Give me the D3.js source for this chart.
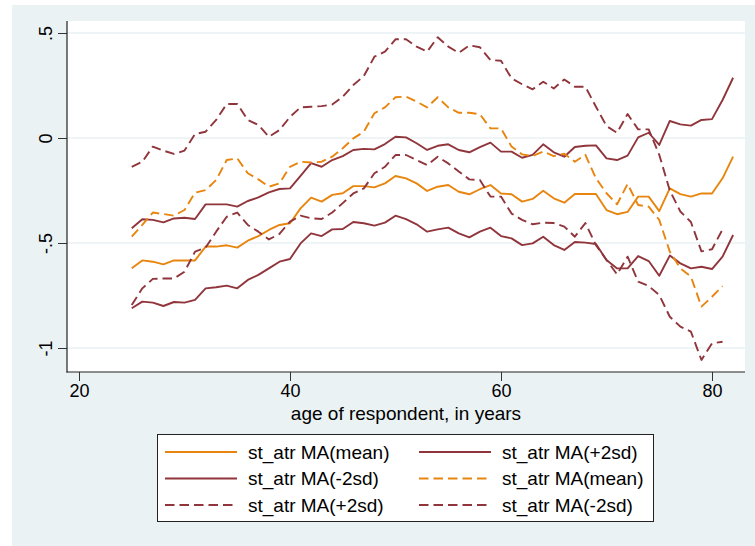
<!DOCTYPE html>
<html>
<head>
<meta charset="utf-8">
<script src="https://cdn.jsdelivr.net/npm/d3@7"></script>
<style>
  body { margin: 0; background: #fff; }
  svg text { font-family: "Liberation Sans", Arial, sans-serif; fill: #000; }
</style>
</head>
<body>
<div class="canvas"></div>
<script>
// ages on the x axis (solid series run to 82, dashed to 81)
const agesSolid = d3.range(25, 83)
const agesDashed = d3.range(25, 82)

const meanSolid = [-0.62, -0.583, -0.589, -0.602, -0.583, -0.583, -0.583, -0.517, -0.517, -0.511,
    -0.522, -0.489, -0.467, -0.438, -0.414, -0.406, -0.335, -0.284, -0.303, -0.271,
    -0.263, -0.229, -0.229, -0.235, -0.216, -0.181, -0.192, -0.216, -0.252, -0.232,
    -0.224, -0.256, -0.268, -0.244, -0.224, -0.264, -0.268, -0.303, -0.29, -0.251,
    -0.287, -0.308, -0.267, -0.267, -0.267, -0.343, -0.363, -0.352, -0.279, -0.279,
    -0.348, -0.24, -0.267, -0.279, -0.264, -0.264, -0.192, -0.089]

const upperSolid = [-0.43, -0.387, -0.39, -0.402, -0.383, -0.38, -0.386, -0.316, -0.316, -0.316,
    -0.327, -0.3, -0.283, -0.259, -0.243, -0.24, -0.18, -0.12, -0.137, -0.105,
    -0.086, -0.057, -0.052, -0.054, -0.029, 0.006, 0.003, -0.025, -0.057, -0.037,
    -0.03, -0.057, -0.068, -0.043, -0.022, -0.065, -0.065, -0.094, -0.08, -0.03,
    -0.068, -0.089, -0.043, -0.037, -0.035, -0.097, -0.105, -0.084, 0.003, 0.025,
    -0.033, 0.081, 0.065, 0.059, 0.086, 0.09, 0.181, 0.287]

const lowerSolid = [-0.811, -0.779, -0.784, -0.8, -0.781, -0.784, -0.771, -0.716, -0.711, -0.703,
    -0.716, -0.676, -0.652, -0.621, -0.589, -0.576, -0.502, -0.454, -0.467, -0.435,
    -0.433, -0.4, -0.406, -0.417, -0.403, -0.37, -0.386, -0.411, -0.446, -0.435,
    -0.427, -0.454, -0.473, -0.446, -0.427, -0.467, -0.478, -0.51, -0.502, -0.47,
    -0.51, -0.533, -0.495, -0.498, -0.505, -0.581, -0.621, -0.621, -0.562, -0.586,
    -0.656, -0.56, -0.597, -0.621, -0.613, -0.624, -0.565, -0.462]

const meanDashed = [-0.47, -0.414, -0.355, -0.362, -0.37, -0.343, -0.26, -0.248, -0.2, -0.105,
    -0.097, -0.168, -0.197, -0.232, -0.216, -0.137, -0.113, -0.117, -0.113, -0.089,
    -0.049, -0.002, 0.03, 0.118, 0.146, 0.194, 0.197, 0.173, 0.146, 0.194,
    0.146, 0.12, 0.12, 0.113, 0.046, 0.046, -0.041, -0.078, -0.086, -0.065,
    -0.086, -0.075, -0.113, -0.08, -0.192, -0.263, -0.316, -0.219, -0.319, -0.327,
    -0.39, -0.541, -0.621, -0.66, -0.803, -0.756, -0.705]

const upperDashed = [-0.137, -0.113, -0.041, -0.06, -0.076, -0.06, 0.019, 0.03, 0.086, 0.162,
    0.162, 0.086, 0.062, 0.006, 0.038, 0.1, 0.146, 0.149, 0.152, 0.159,
    0.197, 0.252, 0.295, 0.387, 0.411, 0.47, 0.47, 0.435, 0.411, 0.48,
    0.435, 0.406, 0.441, 0.432, 0.371, 0.368, 0.284, 0.256, 0.232, 0.268,
    0.236, 0.279, 0.244, 0.244, 0.149, 0.057, 0.025, 0.114, 0.041, 0.041,
    -0.08, -0.25, -0.35, -0.4, -0.54, -0.53, -0.435]

const lowerDashed = [-0.795, -0.716, -0.671, -0.669, -0.669, -0.637, -0.541, -0.522, -0.446, -0.375,
    -0.355, -0.414, -0.446, -0.483, -0.457, -0.398, -0.37, -0.382, -0.386, -0.355,
    -0.31, -0.264, -0.24, -0.168, -0.137, -0.081, -0.081, -0.105, -0.129, -0.089,
    -0.121, -0.16, -0.197, -0.2, -0.279, -0.279, -0.36, -0.39, -0.411, -0.403,
    -0.405, -0.422, -0.47, -0.405, -0.51, -0.581, -0.649, -0.565, -0.684, -0.705,
    -0.748, -0.851, -0.898, -0.922, -1.057, -0.978, -0.97]

const xTicks = [20, 40, 60, 80]
const yTicks = [0.5, 0, -0.5, -1]
const yTickLabels = ['.5', '0', '-.5', '-1']
const legendLabels = ['st_atr MA(mean)', 'st_atr MA(+2sd)', 'st_atr MA(-2sd)',
    'st_atr MA(mean)', 'st_atr MA(+2sd)', 'st_atr MA(-2sd)']

const orange = '#e8850e'
const maroon = '#90353b'
const bg = '#eaf2f3'
const dash = '9.5,5'

const series = [
    { ages: agesSolid, values: meanSolid, color: orange, dash: null },
    { ages: agesSolid, values: upperSolid, color: maroon, dash: null },
    { ages: agesSolid, values: lowerSolid, color: maroon, dash: null },
    { ages: agesDashed, values: meanDashed, color: orange, dash: dash },
    { ages: agesDashed, values: upperDashed, color: maroon, dash: dash },
    { ages: agesDashed, values: lowerDashed, color: maroon, dash: dash }
]

const dims = { width: 755, height: 546 }
const plot = { left: 67, right: 745, top: 21, bottom: 372 }

const svg = d3.select('.canvas')
    .append('svg')
    .attr('width', dims.width)
    .attr('height', dims.height)

// graph region background
svg.append('rect')
    .attr('x', 12).attr('y', 5)
    .attr('width', dims.width - 12).attr('height', dims.height - 5)
    .attr('fill', bg)

svg.append('rect')
    .attr('x', plot.left).attr('y', plot.top)
    .attr('width', plot.right - plot.left).attr('height', plot.bottom - plot.top)
    .attr('fill', '#fff')

const x = d3.scaleLinear().domain([20, 80]).range([79, 712])
const y = d3.scaleLinear().domain([-1, 0.5]).range([348, 33])

// gridlines
svg.append('g')
    .selectAll('line')
    .data(yTicks)
    .enter().append('line')
    .attr('x1', plot.left).attr('x2', plot.right)
    .attr('y1', d => y(d)).attr('y2', d => y(d))
    .attr('stroke', bg)
    .attr('stroke-width', 1.6)

// y axis
const yAxis = svg.append('g')
    .attr('transform', `translate(${plot.left}, 0)`)
    .call(d3.axisLeft(y).tickValues(yTicks).tickSize(9).tickFormat((d, i) => yTickLabels[i]))
yAxis.select('.domain').remove()
yAxis.selectAll('.tick line').attr('stroke', '#333').attr('stroke-width', 1)
yAxis.selectAll('.tick text')
    .attr('font-size', 18)
    .attr('text-anchor', 'middle')
    .attr('x', null).attr('dy', null)
    .attr('transform', 'translate(-15, 0) rotate(-90)')
yAxis.append('line')
    .attr('x1', 0).attr('x2', 0)
    .attr('y1', plot.top).attr('y2', plot.bottom + 0.5)
    .attr('stroke', '#222').attr('stroke-width', 1.2)

// x axis
const xAxis = svg.append('g')
    .attr('transform', `translate(0, ${plot.bottom})`)
    .call(d3.axisBottom(x).tickValues(xTicks).tickSize(9).tickFormat(d3.format('d')))
xAxis.select('.domain').remove()
xAxis.selectAll('.tick line').attr('stroke', '#333').attr('stroke-width', 1)
xAxis.selectAll('.tick text')
    .attr('font-size', 18)
    .attr('y', 12)
xAxis.append('line')
    .attr('x1', plot.left - 0.5).attr('x2', plot.right)
    .attr('y1', 0).attr('y2', 0)
    .attr('stroke', '#222').attr('stroke-width', 1.2)

svg.append('text')
    .attr('x', (plot.left + plot.right) / 2)
    .attr('y', 420)
    .attr('text-anchor', 'middle')
    .attr('font-size', 19)
    .text('age of respondent, in years')

// lines
const line = d3.line()
    .x(d => x(d[0]))
    .y(d => y(d[1]))

svg.append('g')
    .selectAll('path')
    .data(series)
    .enter().append('path')
    .attr('d', s => line(s.ages.map((a, i) => [a, s.values[i]])))
    .attr('fill', 'none')
    .attr('stroke', s => s.color)
    .attr('stroke-width', 1.9)
    .attr('stroke-linejoin', 'round')
    .attr('stroke-dasharray', s => s.dash)

// legend
const legend = svg.append('g')
legend.append('rect')
    .attr('x', 157.5).attr('y', 434.5)
    .attr('width', 496).attr('height', 87)
    .attr('fill', '#fff')
    .attr('stroke', '#222')
    .attr('stroke-width', 1)

const cols = [165, 419]
const rows = [452, 478.5, 505]
const items = legend.selectAll('g.item')
    .data(series)
    .enter().append('g')
    .attr('class', 'item')
    .attr('transform', (d, i) => `translate(${cols[i % 2]}, ${rows[Math.floor(i / 2)]})`)

items.append('line')
    .attr('x1', 0).attr('x2', 72)
    .attr('stroke', d => d.color)
    .attr('stroke-width', 1.8)
    .attr('stroke-dasharray', d => d.dash)

items.append('text')
    .attr('x', 83)
    .attr('dy', '0.36em')
    .attr('font-size', 19)
    .text((d, i) => legendLabels[i])
</script>
</body>
</html>
